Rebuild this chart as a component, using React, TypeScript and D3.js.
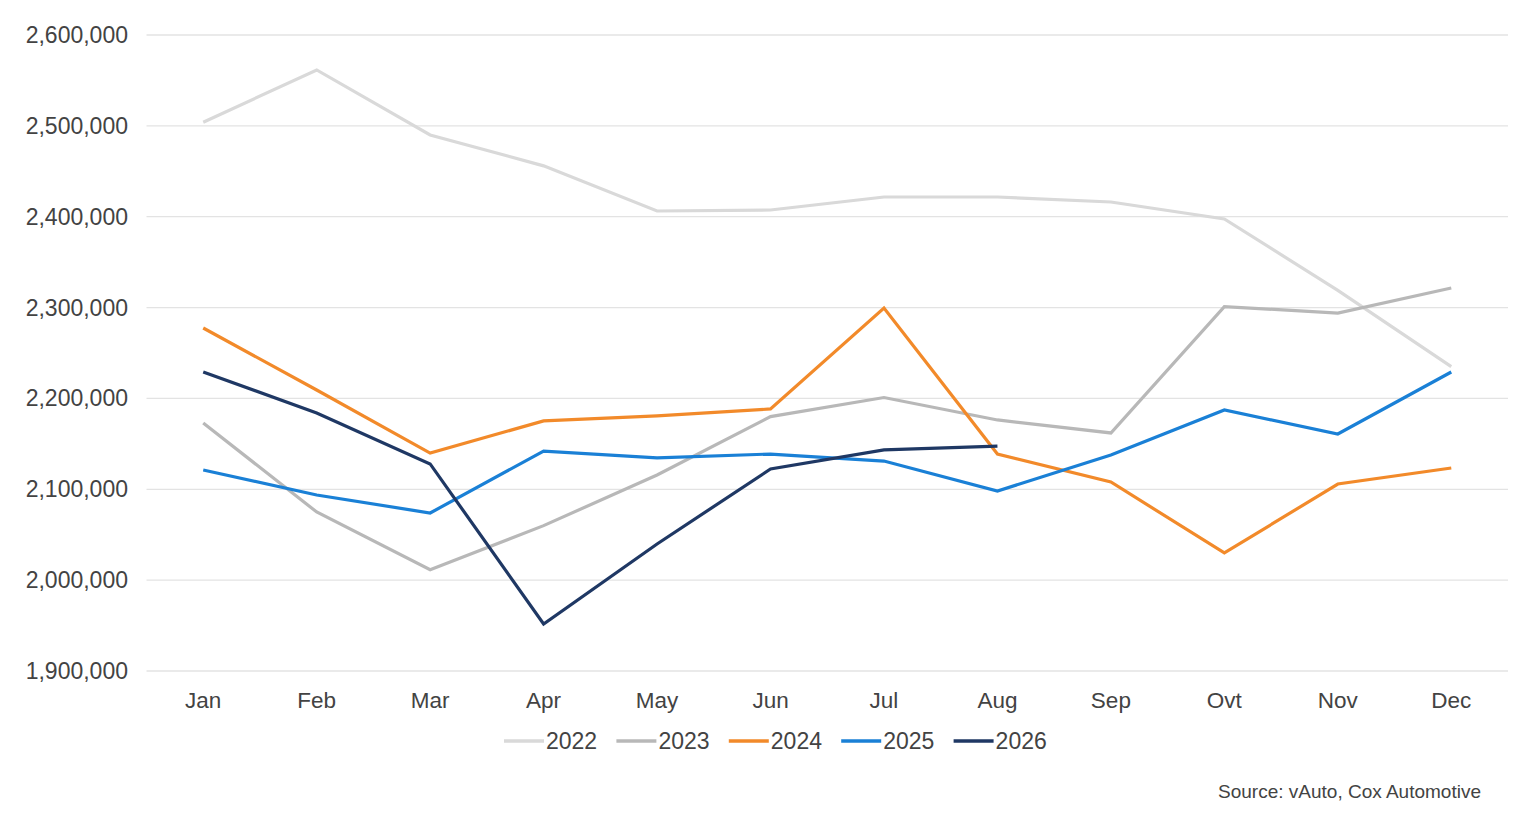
import React from "react";
import * as d3 from "d3";

const months = ["Jan", "Feb", "Mar", "Apr", "May", "Jun", "Jul", "Aug", "Sep", "Ovt", "Nov", "Dec"];
const yTicks = [1900000, 2000000, 2100000, 2200000, 2300000, 2400000, 2500000, 2600000];

const s2022 = [2504000, 2561500, 2490000, 2456000, 2406300, 2407400, 2421700, 2421700, 2416200, 2397500, 2319000, 2235000];
const s2023 = [2173000, 2075000, 2011500, 2060000, 2115700, 2180000, 2201000, 2176300, 2162000, 2301000, 2294000, 2321500];
const s2024 = [2277500, 2209300, 2139900, 2175200, 2180700, 2188400, 2299500, 2138800, 2108000, 2029900, 2105800, 2123400];
const s2025 = [2121200, 2093700, 2073900, 2142100, 2134500, 2138800, 2131100, 2098100, 2137700, 2187300, 2160900, 2229100];
const s2026 = [2229100, 2184000, 2127900, 1951800, 2039800, 2122300, 2143300, 2147600];

const seriesNames = ["2022", "2023", "2024", "2025", "2026"];
const seriesData = [s2022, s2023, s2024, s2025, s2026];
const seriesColors = ["#D9D9D9", "#B8B8B8", "#F28A2A", "#1A80D6", "#1F3864"];

const W = 1536;
const H = 830;
const FONT = "'Liberation Sans', Arial, sans-serif";
const TEXT = "#434343";

export default function App() {
  const x = d3.scaleBand<string>().domain(months).range([146.5, 1508]);
  const y = d3.scaleLinear().domain([1900000, 2600000]).range([671, 35]);
  const fmt = d3.format(",");
  const line = d3
    .line<number>()
    .x((_, i) => (x(months[i]) as number) + x.bandwidth() / 2)
    .y((d) => y(d));

  const legendStart = 504;
  const legendStep = 112.4;
  const legendY = 741;

  return (
    <svg
      width={W}
      height={H}
      style={{ position: "absolute", left: 0, top: 0, background: "#fff" }}
      fontFamily={FONT}
    >
      {yTicks.map((t) => (
        <g key={t}>
          <line x1={146.5} x2={1508} y1={y(t)} y2={y(t)} stroke="#E3E3E3" strokeWidth={1.3} />
          <text x={128} y={y(t)} dy="0.35em" textAnchor="end" fontSize={23} fill={TEXT}>
            {fmt(t)}
          </text>
        </g>
      ))}
      {months.map((m) => (
        <text
          key={m}
          x={(x(m) as number) + x.bandwidth() / 2}
          y={700}
          dy="0.35em"
          textAnchor="middle"
          fontSize={22.5}
          fill={TEXT}
        >
          {m}
        </text>
      ))}
      {seriesData.map((s, i) => (
        <path
          key={seriesNames[i]}
          d={line(s) || ""}
          fill="none"
          stroke={seriesColors[i]}
          strokeWidth={3.2}
          strokeLinejoin="miter"
        />
      ))}
      {seriesNames.map((n, i) => {
        const lx = legendStart + i * legendStep;
        return (
          <g key={n}>
            <line x1={lx} x2={lx + 40} y1={legendY} y2={legendY} stroke={seriesColors[i]} strokeWidth={3.5} />
            <text x={lx + 42} y={legendY} dy="0.35em" fontSize={23} fill={TEXT}>
              {n}
            </text>
          </g>
        );
      })}
      <text x={1481} y={791} dy="0.35em" textAnchor="end" fontSize={19} fill={TEXT}>
        Source: vAuto, Cox Automotive
      </text>
    </svg>
  );
}
